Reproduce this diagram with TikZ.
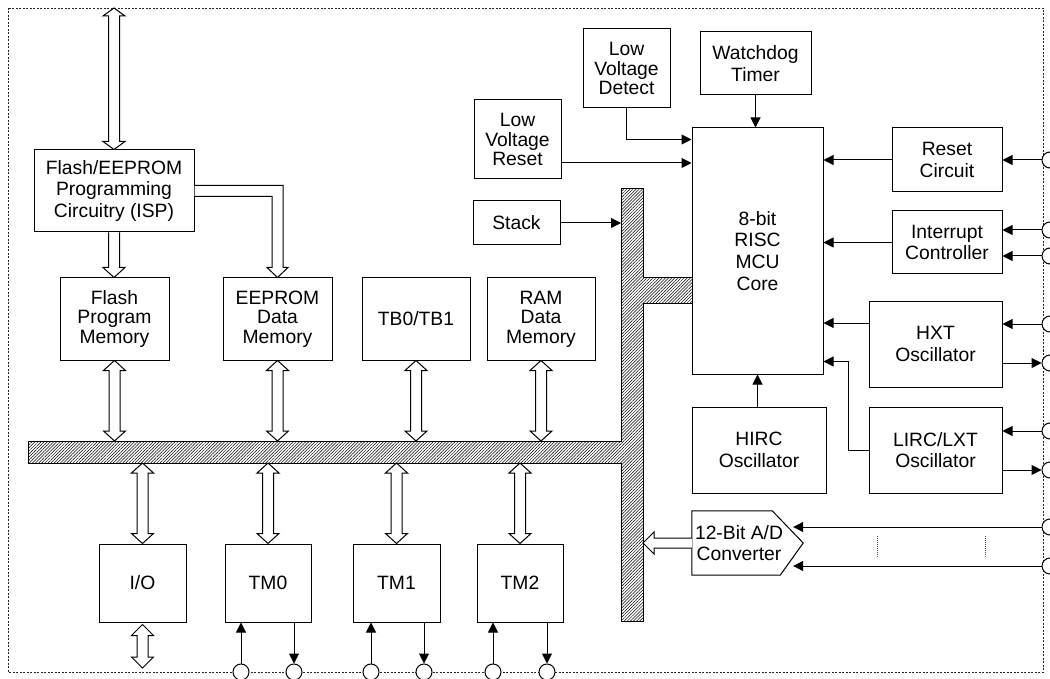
\documentclass[tikz,border=0pt]{standalone}
\usepackage{fontspec}
\setmainfont{Liberation Sans}
\usetikzlibrary{arrows.meta,patterns.meta,calc}
\newcommand{\vdbl}[3]{%
  \path[blk] let \p1=(#1), \p2=(#2) in
   (\x1,\y1) -- ({\x1+11pt},{\y1-#3}) -- ({\x1+5.5pt},{\y1-#3}) -- ({\x1+5.5pt},{\y2+#3}) -- ({\x1+11pt},{\y2+#3}) -- (\x1,\y2) -- ({\x1-11pt},{\y2+#3}) -- ({\x1-5.5pt},{\y2+#3}) -- ({\x1-5.5pt},{\y1-#3}) -- ({\x1-11pt},{\y1-#3}) -- cycle;}
\begin{document}
\begin{tikzpicture}[x=1pt,y=-1pt,
  box/.style={draw,line width=1pt,align=center,inner sep=0pt,font=\fontsize{19.3}{21.8}\selectfont},
  tight/.style={font=\fontsize{19.3}{19.5}\selectfont},
  arr/.style={line width=1pt,-{Triangle[length=10pt,width=10pt]}},
  blk/.style={draw,fill=white,line width=1pt,line join=miter},
  pin/.style={circle,draw,fill=white,line width=1pt,minimum size=16pt,inner sep=0pt},
  border/.style={draw=black!85,line width=0.8pt,dash pattern=on 2pt off 1.5pt},
  hatch/.style={draw,line width=1pt,pattern={Lines[angle=45,distance=2.2pt,line width=0.5pt]}},
  dotl/.style={draw=black!70,line width=0.7pt,dash pattern=on 1pt off 1pt}
  ]
\useasboundingbox (0,0) rectangle (1050,679);
% border
\draw[border] (8,8) rectangle (1043,672);
\coordinate (bordTL) at (8,8);
% bus coordinates
\coordinate (busT) at (0,441);
\coordinate (busB) at (0,463);
\coordinate (vbusL) at (621,0);
\coordinate (vbusR) at (643,0);
% bus
\path[hatch] (621,189) -- (643,189) -- (643,278) -- (692,278) -- (692,303) -- (643,303) -- (643,621) -- (621,621) -- (621,463) -- (28,463) -- (28,441) -- (621,441) -- cycle;

% boxes
\node[box,minimum width=160pt,minimum height=82pt] (isp) at (114,191) {Flash/EEPROM\\Programming\\Circuitry (ISP)};
\node[box,tight,minimum width=109pt,minimum height=82pt] (flashmem) at (114.5,319) {Flash\\Program\\Memory};
\node[box,tight,minimum width=109pt,minimum height=82pt] (eeprom) at (277.5,319) {EEPROM\\Data\\Memory};
\node[box,minimum width=108pt,minimum height=82pt] (tb) at (416,319) {TB0/TB1};
\node[box,tight,minimum width=108pt,minimum height=82pt] (ram) at (541,319) {RAM\\Data\\Memory};
\node[box,minimum width=87pt,minimum height=78pt] (io) at (142.5,583) {I/O};
\node[box,minimum width=86pt,minimum height=78pt] (tm0) at (268,583) {TM0};
\node[box,minimum width=87pt,minimum height=78pt] (tm1) at (396.5,583) {TM1};
\node[box,minimum width=86pt,minimum height=78pt] (tm2) at (520,583) {TM2};
\node[box,tight,minimum width=87pt,minimum height=79pt] (lvr) at (517.5,139.5) {Low\\Voltage\\Reset};
\node[box,minimum width=87pt,minimum height=44pt] (stack) at (516.5,223) {Stack};
\node[box,tight,minimum width=87pt,minimum height=79pt] (lvd) at (626.5,68.5) {Low\\Voltage\\Detect};
\node[box,minimum width=111pt,minimum height=63pt] (wdt) at (755.5,63.5) {Watchdog\\Timer};
\node[box,minimum width=131pt,minimum height=246pt] (core) at (757.5,251) {8-bit\\RISC\\MCU\\Core};
\node[box,minimum width=110pt,minimum height=64pt] (reset) at (947,160) {Reset\\Circuit};
\node[box,minimum width=110pt,minimum height=63pt] (intc) at (947,242.5) {Interrupt\\Controller};
\node[box,minimum width=133pt,minimum height=86pt] (hxt) at (935.5,344) {HXT\\Oscillator};
\node[box,minimum width=133pt,minimum height=86pt] (lirc) at (935.5,450) {LIRC/LXT\\Oscillator};
\node[box,minimum width=134pt,minimum height=86pt] (hirc) at (759,450) {HIRC\\Oscillator};
% ADC
\node[draw=none,inner sep=0pt,minimum width=111pt,minimum height=64pt] (adc) at (747.5,543) {};
\path[blk] (adc.north west) -- ([xshift=-31pt]adc.north east) -- (adc.east) -- ([xshift=-23pt]adc.south east) -- (adc.south west) -- cycle;
\node[align=center,inner sep=0pt,font=\fontsize{19.3}{21.8}\selectfont] (adctext) at (739,543) {12-Bit A/D\\Converter};
\coordinate (adctip) at ([xshift=-10pt]adc.east);

% block arrows
\vdbl{isp.north |- bordTL}{isp.north}{8pt}
\path[blk] let \p1=(isp.south), \p2=(flashmem.north) in
  ({\x1-5.5pt},\y1) -- ({\x1-5.5pt},{\y2+10pt}) -- ({\x1-11pt},{\y2+10pt}) -- (\x1,\y2) -- ({\x1+11pt},{\y2+10pt}) -- ({\x1+5.5pt},{\y2+10pt}) -- ({\x1+5.5pt},\y1);
\path[blk] let \p1=(isp.east), \p2=(eeprom.north) in
  (\x1,{\y1+5.5pt}) -- ({\x2+5.5pt},{\y1+5.5pt}) -- ({\x2+5.5pt},{\y2+10pt}) -- ({\x2+10.5pt},{\y2+10pt}) -- (\x2,\y2) -- ({\x2-10.5pt},{\y2+10pt}) -- ({\x2-5.5pt},{\y2+10pt}) -- ({\x2-5.5pt},{\y1-5.5pt}) -- (\x1,{\y1-5.5pt});
\vdbl{flashmem.south}{flashmem.south |- busT}{10pt}
\vdbl{eeprom.south}{eeprom.south |- busT}{10pt}
\vdbl{tb.south}{tb.south |- busT}{10pt}
\vdbl{ram.south}{ram.south |- busT}{10pt}
\vdbl{io.north |- busB}{io.north}{10pt}
\vdbl{tm0.north |- busB}{tm0.north}{10pt}
\vdbl{tm1.north |- busB}{tm1.north}{10pt}
\vdbl{tm2.north |- busB}{tm2.north}{10pt}
\coordinate (iopin) at (142.5,668);
\vdbl{[yshift=-2pt]io.south}{iopin}{11pt}
\path[blk] let \p1=(adc.west), \p2=(adc.west -| vbusR) in
  (\x1,{\y1+5pt}) -- ({\x2+11pt},{\y1+5pt}) -- ({\x2+11pt},{\y1+11pt}) -- (\x2,\y1) -- ({\x2+11pt},{\y1-11pt}) -- ({\x2+11pt},{\y1-5pt}) -- (\x1,{\y1-5pt});

% thin arrows into core
\draw[arr] (wdt.south) -- (core.north -| wdt.south);
\draw[arr] (lvd.south) |- ([yshift=-12pt]core.north west);
\draw[arr] ([yshift=-23.5pt]lvr.east) -- ([yshift=-23.5pt]lvr.east -| core.west);
\draw[arr] (stack.east) -- (stack.east -| vbusL);
\draw[arr] (reset.west) -- (reset.west -| core.east);
\draw[arr] (intc.west) -- (intc.west -| core.east);
\draw[arr] ([yshift=21pt]hxt.west) -- ([yshift=21pt]hxt.west -| core.east);
\draw[arr] (lirc.west) -- ++(-20,0) |- ([yshift=13pt]core.south east);
\draw[arr] (hirc.north -| core.south) -- (core.south);

% right pins
\node[pin] (pR) at (1050,160) {};
\node[pin] (pI1) at (1050,230) {};
\node[pin] (pI2) at (1050,256) {};
\node[pin] (pH1) at (1050,324) {};
\node[pin] (pH2) at (1050,363) {};
\node[pin] (pL1) at (1050,431) {};
\node[pin] (pL2) at (1050,470) {};
\node[pin] (pA1) at (1050,527) {};
\node[pin] (pA2) at (1050,566) {};
\draw[arr] (pR.west) -- (pR.west -| reset.east);
\draw[arr] (pI1.west) -- (pI1.west -| intc.east);
\draw[arr] (pI2.west) -- (pI2.west -| intc.east);
\draw[arr] (pH1.west) -- (pH1.west -| hxt.east);
\draw[arr] (pH2.west -| hxt.east) -- (pH2.west);
\draw[arr] (pL1.west) -- (pL1.west -| lirc.east);
\draw[arr] (pL2.west -| lirc.east) -- (pL2.west);
\draw[arr] (pA1.west) -- (pA1.west -| adctip);
\draw[arr] (pA2.west) -- (pA2.west -| adctip);
\draw[dotl] (877,536) -- (877,558);
\draw[dotl] (985,536) -- (985,558);

% bottom pins
\node[pin] (b0i) at (241,672) {};
\node[pin] (b0o) at (294,672) {};
\node[pin] (b1i) at (371,672) {};
\node[pin] (b1o) at (424,672) {};
\node[pin] (b2i) at (493,672) {};
\node[pin] (b2o) at (547,672) {};
\draw[arr] (b0i.north) -- (b0i.north |- tm0.south);
\draw[arr] (b0o.north |- tm0.south) -- (b0o.north);
\draw[arr] (b1i.north) -- (b1i.north |- tm1.south);
\draw[arr] (b1o.north |- tm1.south) -- (b1o.north);
\draw[arr] (b2i.north) -- (b2i.north |- tm2.south);
\draw[arr] (b2o.north |- tm2.south) -- (b2o.north);
\end{tikzpicture}
\end{document}
